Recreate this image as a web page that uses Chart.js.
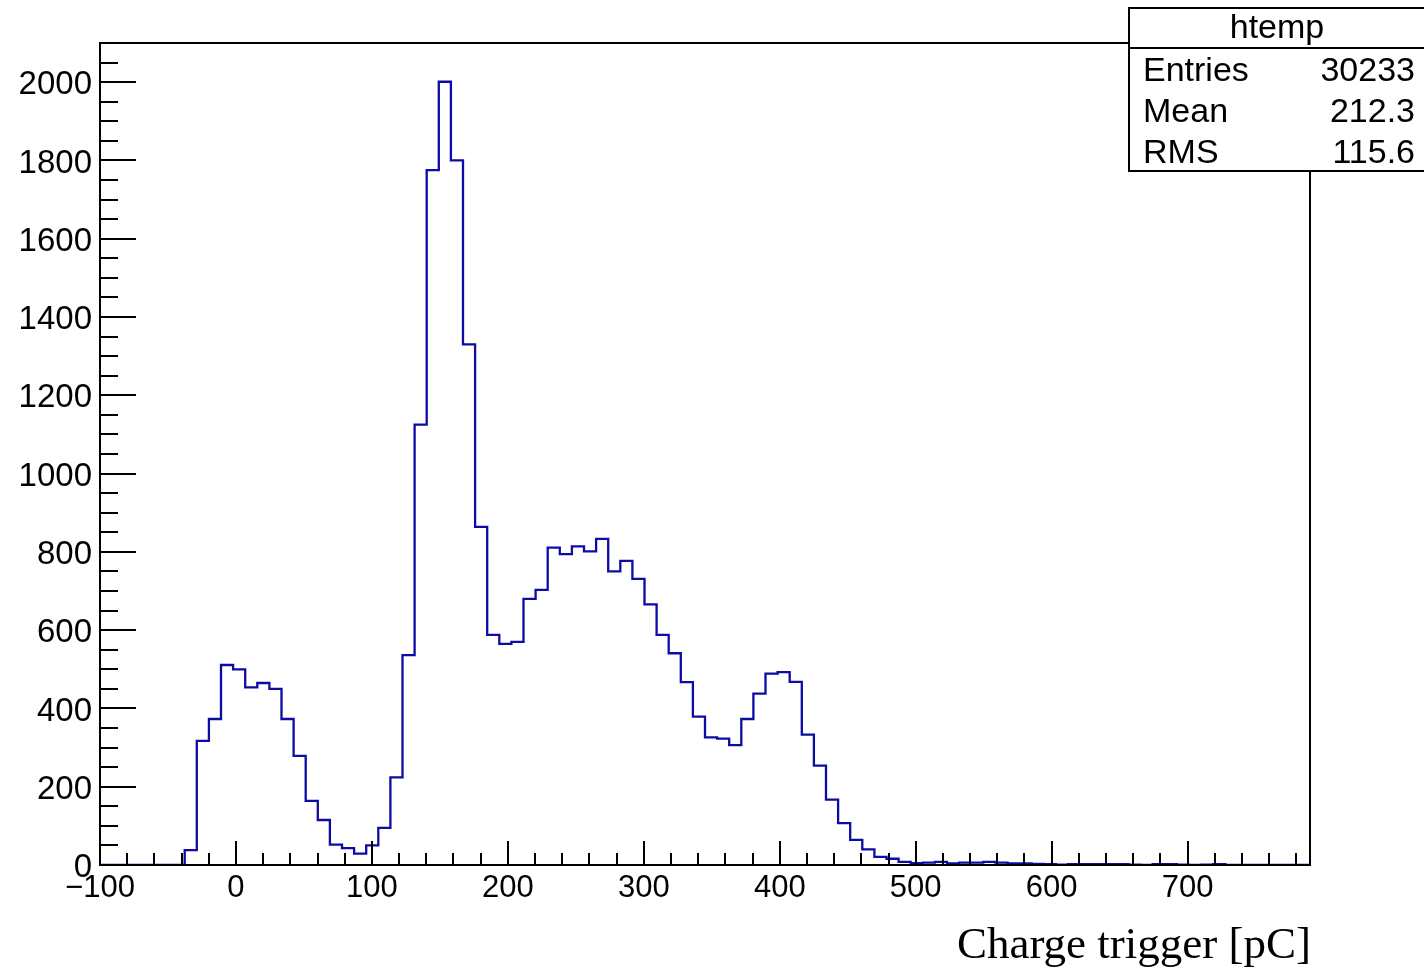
<!DOCTYPE html>
<html>
<head>
<meta charset="utf-8">
<script src="https://cdn.jsdelivr.net/npm/chart.js@4/dist/chart.umd.min.js"></script>
<style>
  html, body { margin: 0; padding: 0; background: #fff; }
  #wrap { width: 1424px; height: 972px; position: relative; }
</style>
</head>
<body>
<div id="wrap"><canvas id="c"></canvas></div>
<script>
// ---- data ----
const histName = 'htemp';
const xAxisTitle = 'Charge trigger [pC]';
const xMin = -100;
const xMax = 790;
const nBins = 100;
const yMin = 0;
const yMax = 2100;
const counts = [
  0, 0, 0, 0, 0, 0, 0, 38, 317, 373,
  511, 500, 454, 465, 450, 373, 279, 164, 115, 52,
  43, 29, 50, 95, 224, 536, 1125, 1775, 2001, 1800,
  1330, 864, 588, 565, 570, 680, 703, 811, 794, 814,
  801, 833, 750, 777, 731, 666, 588, 541, 467, 379,
  326, 323, 306, 373, 438, 489, 493, 468, 333, 254,
  167, 107, 64, 40, 21, 16, 8, 5, 6, 8,
  4, 6, 6, 8, 6, 4, 4, 3, 2, 1,
  2, 2, 2, 2, 2, 1, 0, 2, 2, 1,
  0, 1, 2, 0, 0, 0, 0, 0, 0, 0
];
const xTickLabels = [-100, 0, 100, 200, 300, 400, 500, 600, 700];
const yTickLabels = [0, 200, 400, 600, 800, 1000, 1200, 1400, 1600, 1800, 2000];
const statLabels = ['Entries', 'Mean', 'RMS'];
const statValues = ['30233', '212.3', '115.6'];

// ---- build histogram outline points (bin low edges + final edge) ----
const binWidth = (xMax - xMin) / nBins;
const points = counts.map((c, i) => ({ x: xMin + i * binWidth, y: c }));
points.push({ x: xMax, y: 0 });

const SANS = '"Liberation Sans", Arial, Helvetica, sans-serif';
const SERIF = '"Liberation Serif", "Times New Roman", serif';

const rootDecor = {
  id: 'rootDecor',
  afterDraw(chart) {
    const ctx = chart.ctx;
    const xs = chart.scales.x, ys = chart.scales.y;
    const a = chart.chartArea;
    ctx.save();
    ctx.strokeStyle = '#000';
    ctx.lineWidth = 2;
    ctx.lineCap = 'butt';
    // frame
    ctx.strokeRect(a.left, a.top, a.right - a.left, a.bottom - a.top);
    // x ticks (inward)
    for (let v = xMin; v <= xMax + 1e-6; v += 20) {
      const px = Math.round(xs.getPixelForValue(v));
      const len = (Math.round(v) % 100 === 0) ? 24 : 12;
      ctx.beginPath(); ctx.moveTo(px, a.bottom); ctx.lineTo(px, a.bottom - len); ctx.stroke();
    }
    // y ticks (inward)
    for (let v = yMin; v <= yMax; v += 50) {
      const py = Math.round(ys.getPixelForValue(v));
      const len = (v % 200 === 0) ? 36 : 18;
      ctx.beginPath(); ctx.moveTo(a.left, py); ctx.lineTo(a.left + len, py); ctx.stroke();
    }
    // x-axis title
    ctx.fillStyle = '#000';
    ctx.font = '45px ' + SERIF;
    ctx.textAlign = 'right';
    ctx.textBaseline = 'alphabetic';
    ctx.fillText(xAxisTitle, a.right + 1, 958);

    // stats box
    const bx = 1129, by = 8, bw = 320, bh = 163;
    ctx.fillStyle = '#fff';
    ctx.fillRect(bx, by, bw, bh);
    ctx.lineWidth = 2;
    ctx.strokeRect(bx, by, bw, bh);
    ctx.beginPath(); ctx.moveTo(bx, 48); ctx.lineTo(bx + bw, 48); ctx.stroke();
    ctx.fillStyle = '#000';
    ctx.font = '34px ' + SANS;
    ctx.textAlign = 'center';
    ctx.fillText(histName, 1277, 38);
    const baselines = [81, 122, 163];
    for (let i = 0; i < statLabels.length; i++) {
      ctx.textAlign = 'left';
      ctx.fillText(statLabels[i], 1143, baselines[i]);
      ctx.textAlign = 'right';
      ctx.fillText(statValues[i], 1415, baselines[i]);
    }
    ctx.restore();
  }
};

new Chart(document.getElementById('c'), {
  type: 'line',
  data: {
    datasets: [{
      data: points,
      stepped: 'before',
      borderColor: '#0c0ca4',
      borderWidth: 2.3,
      pointRadius: 0,
      fill: false,
      tension: 0
    }]
  },
  options: {
    responsive: true,
    maintainAspectRatio: false,
    animation: false,
    events: [],
    layout: { padding: { top: 43, right: 114, left: 0, bottom: 0 } },
    plugins: { legend: { display: false }, tooltip: { enabled: false }, title: { display: false } },
    scales: {
      x: {
        type: 'linear',
        min: xMin,
        max: xMax,
        grid: { display: false, drawTicks: false },
        border: { display: false },
        afterBuildTicks(scale) { scale.ticks = xTickLabels.map(v => ({ value: v })); },
        afterFit(scale) { scale.height = 107; },
        ticks: {
          maxRotation: 0,
          autoSkip: false,
          padding: 5,
          color: '#000',
          font: { family: SANS, size: 31 },
          callback: (v) => (v < 0 ? '\u2212' + Math.abs(v) : String(v))
        }
      },
      y: {
        type: 'linear',
        min: yMin,
        max: yMax,
        grid: { display: false, drawTicks: false },
        border: { display: false },
        afterBuildTicks(scale) { scale.ticks = yTickLabels.map(v => ({ value: v })); },
        afterFit(scale) { scale.width = 100; },
        ticks: {
          autoSkip: false,
          padding: 8,
          labelOffset: 3,
          color: '#000',
          font: { family: SANS, size: 33 },
          callback: (v) => String(v)
        }
      }
    }
  },
  plugins: [rootDecor]
});
</script>
</body>
</html>
